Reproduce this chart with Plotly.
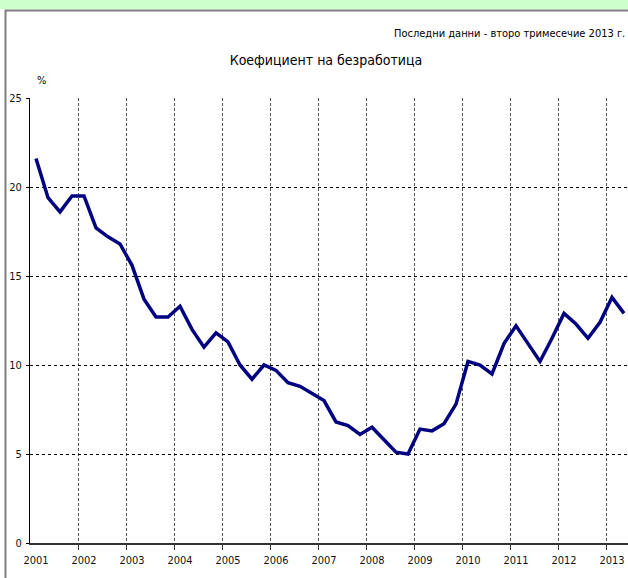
import plotly.graph_objects as go

years = [str(y) for y in range(2001, 2014)]
unemployment = [
    21.6, 19.4, 18.6, 19.5,
    19.5, 17.7, 17.2, 16.8,
    15.6, 13.7, 12.7, 12.7,
    13.3, 12.0, 11.0, 11.8,
    11.3, 10.0, 9.2, 10.0,
    9.7, 9.0, 8.8, 8.4,
    8.0, 6.8, 6.6, 6.1,
    6.5, 5.8, 5.1, 5.0,
    6.4, 6.3, 6.7, 7.8,
    10.2, 10.0, 9.5, 11.2,
    12.2, 11.2, 10.2, 11.5,
    12.9, 12.3, 11.5, 12.4,
    13.8, 12.9,
]
title_text = "Коефициент на безработица"
note_text = "Последни данни - второ тримесечие 2013 г."
unit_text = "%"

W, H = 628, 578
L, R, T, B = 30, 0, 98, 35
FONT = "Liberation Sans Narrow, DejaVu Sans Condensed, Liberation Sans, Arial, sans-serif"

n = len(unemployment)
xq = list(range(n))
label_pos = list(range(0, n, 4))
boundaries = [p - 0.5 for p in range(4, n + 1, 4)]
x_max = (W - L - R) / 12.0 - 0.5

fig = go.Figure()
fig.add_trace(go.Scatter(
    x=xq, y=unemployment, mode="lines",
    line=dict(color="#000080", width=3.5),
    hoverinfo="y", showlegend=False,
))

pw = W - L - R
ph = H - T - B
def px2x(px):
    return (px - L) / pw
def py2y(py):
    return (H - B - py) / ph

shapes = [
    dict(type="rect", xref="paper", yref="paper",
         x0=px2x(0), x1=px2x(W), y0=py2y(9), y1=py2y(0),
         fillcolor="#ccffcc", line=dict(width=0), layer="below"),
    dict(type="line", xref="paper", yref="paper",
         x0=px2x(5), x1=px2x(W + 5), y0=py2y(10.5), y1=py2y(10.5),
         line=dict(color="#7f7f7f", width=2)),
    dict(type="line", xref="paper", yref="paper",
         x0=px2x(5.5), x1=px2x(5.5), y0=py2y(10), y1=py2y(H + 5),
         line=dict(color="#7f7f7f", width=2)),
]

fig.update_layout(
    width=W, height=H, autosize=False,
    margin=dict(l=L, r=R, t=T, b=B),
    paper_bgcolor="white", plot_bgcolor="white",
    font=dict(family=FONT, color="#111", size=11),
    title=dict(text=title_text, x=326 / W, xanchor="center",
               y=1 - 60 / H, yanchor="middle",
               font=dict(family=FONT, size=14, color="#000")),
    shapes=shapes,
    annotations=[
        dict(text=note_text, xref="paper", yref="paper",
             x=px2x(627), y=py2y(33), xanchor="right", yanchor="middle",
             showarrow=False, font=dict(family=FONT, size=11, color="#000")),
        dict(text=unit_text, xref="paper", yref="paper",
             x=px2x(41), y=py2y(80), xanchor="center", yanchor="middle",
             showarrow=False, font=dict(family=FONT, size=11, color="#000")),
    ],
    xaxis=dict(
        range=[-0.5, x_max], tickmode="array", tickvals=label_pos,
        ticktext=years[:len(label_pos)], ticks="", showgrid=False,
        showline=True, linecolor="#333", linewidth=2, zeroline=False,
        tickfont=dict(family=FONT, size=11, color="#111"),
        ticklabelstandoff=6,
        minor=dict(tickmode="array", tickvals=boundaries, ticks="outside",
                   ticklen=5, tickcolor="#333", showgrid=True,
                   gridcolor="#555", griddash="3px,2px", gridwidth=1),
        fixedrange=True,
    ),
    yaxis=dict(
        range=[0, 25], tickmode="array", tickvals=[0, 5, 10, 15, 20, 25],
        ticks="outside", ticklen=3, tickcolor="#000",
        showgrid=True, gridcolor="#000", griddash="dot", gridwidth=1,
        showline=True, linecolor="#000", linewidth=1, zeroline=False,
        tickfont=dict(family=FONT, size=11, color="#111"),
        ticklabelstandoff=2,
        fixedrange=True,
    ),
)

fig.write_html(
    "out.html",
    config={"displayModeBar": False},
    post_script="document.body.style.margin='0';document.body.style.overflow='hidden';",
)
